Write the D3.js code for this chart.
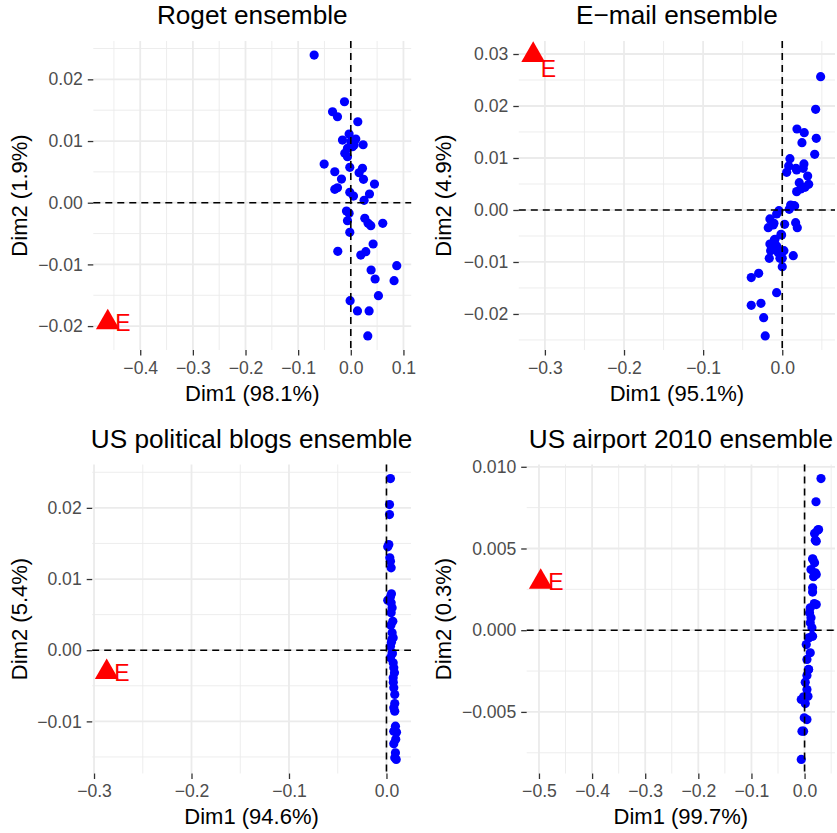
<!DOCTYPE html>
<html><head><meta charset="utf-8">
<script src="https://cdn.jsdelivr.net/npm/d3@7"></script>
<style>body{margin:0;background:#fff}</style>
</head><body><svg id="c" width="837" height="833"></svg>
<script>
// ---------- DATA ----------
const titles = ["Roget ensemble", "E\u2212mail ensemble", "US political blogs ensemble", "US airport 2010 ensemble"];
const xLabels = ["Dim1 (98.1%)", "Dim1 (95.1%)", "Dim1 (94.6%)", "Dim1 (99.7%)"];
const yLabels = ["Dim2 (1.9%)", "Dim2 (4.9%)", "Dim2 (5.4%)", "Dim2 (0.3%)"];
const xTicks1 = [-0.4, -0.3, -0.2, -0.1, 0.0, 0.1];
const yTicks1 = [-0.02, -0.01, 0.00, 0.01, 0.02];
const xTicks2 = [-0.3, -0.2, -0.1, 0.0];
const yTicks2 = [-0.02, -0.01, 0.00, 0.01, 0.02, 0.03];
const xTicks3 = [-0.3, -0.2, -0.1, 0.0];
const yTicks3 = [-0.01, 0.00, 0.01, 0.02];
const xTicks4 = [-0.5, -0.4, -0.3, -0.2, -0.1, 0.0];
const yTicks4 = [-0.005, 0.000, 0.005, 0.010];

const rogetX = [-0.0696,-0.012,-0.0347,-0.0253,0.0133,-0.0032,-0.0158,0.0095,0.0234,0.0032,-0.0063,-0.0114,-0.0063,0.0,0.0063,-0.0506,-0.0019,0.0222,-0.0304,0.0158,-0.0177,0.0241,0.045,-0.0253,-0.0304,-0.0019,0.0355,0.0051,0.0253,-0.0082,-0.0032,0.0266,-0.0063,0.0329,0.038,0.0607,-0.0019,0.0424,-0.0247,0.019,0.0285,0.0873,0.0386,0.0462,0.0822,0.0525,-0.0013,0.0127,0.0348,0.0323];
const rogetY = [0.02394,0.01637,0.01475,0.01394,0.01313,0.01113,0.01016,0.01032,0.0094,0.00908,0.00881,0.008,0.00746,0.00989,0.00935,0.00627,0.00573,0.00557,0.00502,0.00486,0.00384,0.00379,0.00303,0.00243,0.00217,0.00168,0.00141,0.00108,0.00039,-0.00135,-0.00172,-0.00253,-0.00292,-0.00334,-0.00372,-0.00334,-0.0048,-0.00669,-0.00788,-0.00848,-0.00794,-0.01021,-0.01091,-0.01237,-0.01264,-0.01507,-0.01588,-0.01755,-0.01755,-0.0216];

const emailX = [0.0485,0.0422,0.0186,0.0278,0.043,0.0249,0.041,0.0097,0.0081,0.0274,0.0056,0.0182,0.0265,0.0321,0.0215,0.0334,0.0287,0.0233,0.0182,0.0106,0.0157,0.0088,-0.0042,-0.0071,-0.0156,-0.0105,-0.0177,0.003,0.0169,0.019,-0.0016,-0.0092,-0.0156,-0.0071,-0.0147,0.0021,-0.005,0.0139,-0.0164,0.0,0.0,-0.0298,-0.0392,-0.0071,-0.0269,-0.0392,-0.0235,-0.0215,-0.0114,-0.0101,-0.0063,-0.0029,0.0173,0.0148,-0.0008];
const emailY = [0.02564,0.01936,0.01558,0.01487,0.01378,0.01295,0.01071,0.00987,0.00846,0.00885,0.00725,0.00769,0.00801,0.00654,0.00525,0.00494,0.00436,0.00404,0.00353,0.00096,0.00077,0.00013,-0.00013,-0.00077,-0.00173,-0.00256,-0.0034,-0.00275,-0.00244,-0.0034,-0.00468,-0.00564,-0.00654,-0.00692,-0.00782,-0.00782,-0.00821,-0.00878,-0.00929,-0.00929,-0.0109,-0.01218,-0.01301,-0.0159,-0.01795,-0.01833,-0.02071,-0.02423,-0.00288,-0.00577,-0.00737,-0.00929,0.00801,0.00083,-0.00481];

const blogsX = [0.0041,0.0031,0.0031,0.0024,0.0013,0.0034,0.0041,0.0048,0.0051,0.0041,0.0013,0.0048,0.0058,0.0048,0.0065,0.0058,0.0069,0.0051,0.0041,0.0058,0.0041,0.0069,0.0075,0.0082,0.0069,0.0075,0.0085,0.0075,0.0085,0.0092,0.0075,0.0103,0.0075,0.0092,0.0085,0.01,0.0045,0.0055,0.006,0.007,0.0085,0.0095];
const blogsY = [0.02412,0.02046,0.01906,0.01485,0.01452,0.01298,0.0125,0.01157,0.00792,0.0075,0.00702,0.00666,0.00596,0.00525,0.00407,0.00244,0.00174,0.00112,0.00056,-0.00037,-0.00107,-0.00177,-0.00247,-0.00317,-0.00388,-0.00528,-0.00622,-0.00809,-0.00857,-0.01067,-0.01138,-0.01152,-0.01315,-0.01441,-0.01511,-0.01535,0.0035,0.0015,-0.0005,-0.0045,-0.0075,-0.0125];

const airportX = [0.0309,0.0215,0.0245,0.0188,0.0202,0.0151,0.0188,0.0121,0.0202,0.017,0.0151,0.0151,0.0183,0.0107,0.0094,0.0121,0.0107,0.0139,0.0151,0.0075,0.0032,0.0107,0.0045,0.0075,0.0045,0.0013,0.0045,-0.0019,0.0013,-0.0006,-0.0019,-0.0062,-0.0062,-0.0049,0.0045,0.0064,0.0075,0.0139,0.022,0.0264,0.022,0.0158,0.022];
const airportY = [0.00928,0.00786,0.00612,0.00592,0.00551,0.00437,0.00412,0.00371,0.00351,0.00327,0.00259,0.00233,0.00163,0.00137,0.00106,0.00076,0.00045,0.00015,-0.00037,-0.00047,-0.00088,-0.00138,-0.00179,-0.00241,-0.00277,-0.00318,-0.00363,-0.00408,-0.00449,-0.00536,-0.00618,-0.00791,-0.00424,-0.00618,-0.00547,-0.00404,-0.0024,-0.00037,0.00341,0.00616,0.00545,0.00433,0.00157];

const eX = [-0.4617, -0.3148, -0.287, -0.4967];
const eY = [-0.0194, 0.0298, -0.0031, 0.00296];
const eLabel = "E";

// ---------- LAYOUT ----------
const panels = [
  {xs: rogetX, ys: rogetY, xt: xTicks1, yt: yTicks1, yf: ".2f", l: 93.3, r: 411.2, t: 41, b: 350, ytx: 26.5, ldy: 0},
  {xs: emailX, ys: emailY, xt: xTicks2, yt: yTicks2, yf: ".2f", l: 518.8, r: 835, t: 41, b: 350, ytx: 450.5, ldy: 14},
  {xs: blogsX, ys: blogsY, xt: xTicks3, yt: yTicks3, yf: ".2f", l: 92.2, r: 411, t: 464.5, b: 773.5, ytx: 26.5, ldy: 0},
  {xs: airportX, ys: airportY, xt: xTicks4, yt: yTicks4, yf: ".3f", l: 526.7, r: 835, t: 464.5, b: 773.5, ytx: 450.5, ldy: 0}
];

const svg = d3.select("#c");
const FONT = "'Liberation Sans', Arial, Helvetica, sans-serif";
const minus = s => s.replace(/-/g, "\u2212");

function expand(ext) {
  const d = ext[1] - ext[0];
  return [ext[0] - 0.05 * d, ext[1] + 0.05 * d];
}
function minors(ticks, dom) {
  const step = ticks[1] - ticks[0];
  const ext = [ticks[0] - step].concat(ticks, [ticks[ticks.length - 1] + step]);
  const out = [];
  for (let i = 0; i < ext.length - 1; i++) {
    const m = (ext[i] + ext[i + 1]) / 2;
    if (m >= dom[0] && m <= dom[1]) out.push(m);
  }
  return out;
}

panels.forEach((p, i) => {
  const xd = expand(d3.extent(p.xs.concat([eX[i]])));
  const yd = expand(d3.extent(p.ys.concat([eY[i]])));
  const x = d3.scaleLinear().domain(xd).range([p.l, p.r]);
  const y = d3.scaleLinear().domain(yd).range([p.b, p.t]);
  const g = svg.append("g");

  // minor grid
  g.selectAll(null).data(minors(p.xt, xd)).enter().append("line")
    .attr("x1", d => x(d)).attr("x2", d => x(d)).attr("y1", p.t).attr("y2", p.b)
    .attr("stroke", "#EBEBEB").attr("stroke-width", 0.9);
  g.selectAll(null).data(minors(p.yt, yd)).enter().append("line")
    .attr("y1", d => y(d)).attr("y2", d => y(d)).attr("x1", p.l).attr("x2", p.r)
    .attr("stroke", "#EBEBEB").attr("stroke-width", 0.9);
  // major grid
  g.selectAll(null).data(p.xt).enter().append("line")
    .attr("x1", d => x(d)).attr("x2", d => x(d)).attr("y1", p.t).attr("y2", p.b)
    .attr("stroke", "#EBEBEB").attr("stroke-width", 1.8);
  g.selectAll(null).data(p.yt).enter().append("line")
    .attr("y1", d => y(d)).attr("y2", d => y(d)).attr("x1", p.l).attr("x2", p.r)
    .attr("stroke", "#EBEBEB").attr("stroke-width", 1.8);

  // axes (ticks + labels)
  const xAxis = d3.axisBottom(x).tickValues(p.xt).tickSize(5.5).tickPadding(6)
    .tickFormat(d => minus(d3.format(".1f")(d)));
  const xa = g.append("g").attr("transform", `translate(0,${p.b})`).call(xAxis);
  xa.select(".domain").remove();
  xa.selectAll(".tick line").attr("stroke", "#333333").attr("stroke-width", 1.3);
  xa.selectAll(".tick text").attr("fill", "#4D4D4D").attr("font-size", 17.6).attr("font-family", FONT);

  const yAxis = d3.axisLeft(y).tickValues(p.yt).tickSize(5.5).tickPadding(5)
    .tickFormat(d => minus(d3.format(p.yf)(d)));
  const ya = g.append("g").attr("transform", `translate(${p.l},0)`).call(yAxis);
  ya.select(".domain").remove();
  ya.selectAll(".tick line").attr("stroke", "#333333").attr("stroke-width", 1.3);
  ya.selectAll(".tick text").attr("fill", "#4D4D4D").attr("font-size", 17.6).attr("font-family", FONT);

  // points
  const pts = p.xs.map((v, k) => [v, p.ys[k]]);
  g.selectAll(null).data(pts).enter().append("circle")
    .attr("cx", d => x(d[0])).attr("cy", d => y(d[1])).attr("r", 4.6)
    .attr("fill", "#0000FF");

  // E marker
  g.append("path").attr("d", d3.symbol(d3.symbolTriangle, 243)())
    .attr("transform", `translate(${x(eX[i])},${y(eY[i])})`).attr("fill", "#FF0000");
  g.append("text").attr("x", x(eX[i]) + 7.5).attr("y", y(eY[i]) + 8.3 + p.ldy)
    .attr("fill", "#FF0000").attr("font-size", 23).attr("font-family", FONT).text(eLabel);

  // reference dashed lines
  g.append("line").attr("x1", x(0)).attr("x2", x(0)).attr("y1", p.t).attr("y2", p.b)
    .attr("stroke", "#000").attr("stroke-width", 1.6).attr("stroke-dasharray", "7,5");
  g.append("line").attr("y1", y(0)).attr("y2", y(0)).attr("x1", p.l).attr("x2", p.r)
    .attr("stroke", "#000").attr("stroke-width", 1.6).attr("stroke-dasharray", "7,5");

  // titles
  const cx = (p.l + p.r) / 2, cy = (p.t + p.b) / 2;
  g.append("text").attr("x", cx).attr("y", p.t - 16.7).attr("text-anchor", "middle")
    .attr("font-size", 26.2).attr("font-family", FONT).attr("fill", "#000").text(titles[i]);
  g.append("text").attr("x", cx).attr("y", p.b + 50.5).attr("text-anchor", "middle")
    .attr("font-size", 22).attr("font-family", FONT).attr("fill", "#000").text(xLabels[i]);
  g.append("text").attr("transform", `translate(${p.ytx},${cy}) rotate(-90)`).attr("text-anchor", "middle")
    .attr("font-size", 22).attr("font-family", FONT).attr("fill", "#000").text(yLabels[i]);
});
</script>
</body></html>
